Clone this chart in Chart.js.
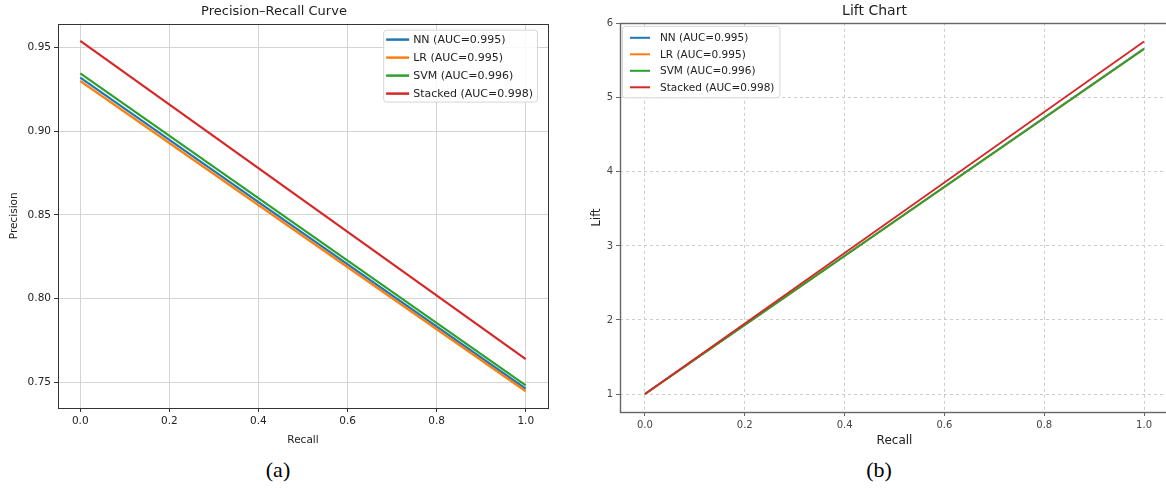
<!DOCTYPE html>
<html>
<head>
<meta charset="utf-8">
<script src="https://cdn.jsdelivr.net/npm/chart.js@4.4.1/dist/chart.umd.min.js"></script>
<style>
  html, body { margin: 0; padding: 0; background: #fff; overflow: hidden; width: 1166px; height: 488px; }
  canvas { position: absolute; top: 0; }
  #pr { left: 0; }
  #lift { left: 580px; }
  .cap { position: absolute; top: 459px; font-family: 'Liberation Serif', 'Times New Roman', serif;
         font-size: 22px; line-height: 22px; color: #000; transform: translateX(-50%); }
</style>
</head>
<body>
<canvas id="pr" width="580" height="452"></canvas>
<canvas id="lift" width="592" height="452"></canvas>
<div class="cap" style="left:278px">(a)</div>
<div class="cap" style="left:879px">(b)</div>
<script>
/* data */
const recall = [0, 1];
const labels = ['NN (AUC=0.995)', 'LR (AUC=0.995)', 'SVM (AUC=0.996)', 'Stacked (AUC=0.998)'];
const colors = ['#1f77b4', '#ff7f0e', '#2ca02c', '#d62728'];

const precNN = [0.932, 0.746];
const precLR = [0.930, 0.7445];
const precSVM = [0.9345, 0.748];
const precStacked = [0.954, 0.7637];

const liftNN = [1, 5.665];
const liftLR = [1, 5.66];
const liftSVM = [1, 5.66];
const liftStacked = [1, 5.76];

const xTicks = [0, 0.2, 0.4, 0.6, 0.8, 1.0];
const precTicks = [0.75, 0.80, 0.85, 0.90, 0.95];
const liftTicks = [1, 2, 3, 4, 5, 6];

const FONT = "'DejaVu Sans', sans-serif";

// top/right spines
const frame = {
  id: 'frame',
  afterDraw(chart, args, opts) {
    const a = chart.chartArea, ctx = chart.ctx;
    ctx.save();
    ctx.strokeStyle = opts.color;
    ctx.lineWidth = opts.width;
    ctx.strokeRect(Math.round(a.left) + 0.5, Math.round(a.top) + 0.5,
                   Math.round(a.right - a.left), Math.round(a.bottom - a.top));
    ctx.restore();
  }
};

// matplotlib-like legend inside the axes
const insideLegend = {
  id: 'insideLegend',
  afterDraw(chart, args, o) {
    const ctx = chart.ctx, a = chart.chartArea;
    ctx.save();
    ctx.font = o.size + 'px ' + FONT;
    let tw = 0;
    chart.data.datasets.forEach(d => { tw = Math.max(tw, ctx.measureText(d.label).width); });
    const w = o.textX + tw + o.padR;
    const h = o.rowTop * 2 + o.rowH * (chart.data.datasets.length - 1) - 2;
    const left = o.side === 'right' ? a.right - o.gapX - w : a.left + o.gapX;
    const top = a.top + o.gapY;
    ctx.fillStyle = 'rgba(255,255,255,0.85)';
    ctx.strokeStyle = '#d6d6d6';
    ctx.lineWidth = 1;
    ctx.beginPath();
    ctx.roundRect(left + 0.5, top + 0.5, w, h, 3);
    ctx.fill();
    ctx.stroke();
    ctx.textBaseline = 'middle';
    chart.data.datasets.forEach((d, i) => {
      const y = top + o.rowTop + i * o.rowH;
      ctx.strokeStyle = d.borderColor;
      ctx.lineWidth = o.lw;
      ctx.beginPath();
      ctx.moveTo(left + o.lineX0, y);
      ctx.lineTo(left + o.lineX1, y);
      ctx.stroke();
      ctx.fillStyle = '#222';
      ctx.fillText(d.label, left + o.textX, y + 0.5);
    });
    ctx.restore();
  }
};

function series(vals, lw) {
  return vals.map((v, i) => ({
    label: labels[i],
    data: recall.map((x, j) => ({ x: x, y: v[j] })),
    borderColor: colors[i],
    backgroundColor: colors[i],
    borderWidth: lw,
    pointRadius: 0,
    order: 4 - i
  }));
}

new Chart(document.getElementById('pr'), {
  type: 'line',
  data: { datasets: series([precNN, precLR, precSVM, precStacked], 2.2) },
  plugins: [frame, insideLegend],
  options: {
    responsive: false,
    animation: false,
    layout: { padding: { left: 0, right: 32, top: 0, bottom: 0 } },
    plugins: {
      legend: { display: false },
      tooltip: { enabled: false },
      title: { display: true, text: 'Precision–Recall Curve', color: '#222',
               font: { family: FONT, size: 13, weight: 'normal' }, padding: { top: 4, bottom: 4 } },
      frame: { color: '#333', width: 1 },
      insideLegend: { side: 'right', gapX: 11, gapY: 6, size: 11, rowTop: 10, rowH: 18,
                      lineX0: 3, lineX1: 26, textX: 30, padR: 4, lw: 2.5 }
    },
    scales: {
      x: {
        type: 'linear', min: -0.05, max: 1.05,
        afterBuildTicks: s => { s.ticks = xTicks.map(v => ({ value: v })); },
        afterFit: s => { s.height = 44; },
        ticks: { callback: v => v.toFixed(1), color: '#222', font: { family: FONT, size: 10.5 }, padding: 3 },
        grid: { color: '#d4d4d4', tickColor: '#333', tickLength: 4 },
        border: { display: false },
        title: { display: true, text: 'Recall', color: '#222', font: { family: FONT, size: 10.5 }, padding: 5 }
      },
      y: {
        type: 'linear', min: 0.7345, max: 0.9643,
        afterBuildTicks: s => { s.ticks = precTicks.map(v => ({ value: v })); },
        afterFit: s => { s.width = 58; },
        ticks: { callback: v => v.toFixed(2), color: '#222', font: { family: FONT, size: 10.5 }, padding: 3 },
        grid: { color: '#d4d4d4', tickColor: '#333', tickLength: 4 },
        border: { display: false },
        title: { display: true, text: 'Precision', color: '#222', font: { family: FONT, size: 10.5 }, padding: 8 }
      }
    }
  }
});

new Chart(document.getElementById('lift'), {
  type: 'line',
  data: { datasets: series([liftNN, liftLR, liftSVM, liftStacked], 1.8) },
  plugins: [frame, insideLegend],
  options: {
    responsive: false,
    animation: false,
    layout: { padding: { left: 0, right: 3, top: 0, bottom: 0 } },
    plugins: {
      legend: { display: false },
      tooltip: { enabled: false },
      title: { display: true, text: 'Lift Chart', color: '#222',
               font: { family: FONT, size: 14, weight: 'normal' }, padding: { top: 3, bottom: 3 } },
      frame: { color: '#666', width: 1.4 },
      insideLegend: { side: 'left', gapX: 2, gapY: 3, size: 10.5, rowTop: 12, rowH: 16.5,
                      lineX0: 8, lineX1: 28, textX: 38, padR: 5, lw: 2 }
    },
    scales: {
      x: {
        type: 'linear', min: -0.05, max: 1.05,
        afterBuildTicks: s => { s.ticks = xTicks.map(v => ({ value: v })); },
        afterFit: s => { s.height = 40; },
        ticks: { callback: v => v.toFixed(1), color: '#444', font: { family: FONT, size: 10 }, padding: 3 },
        grid: { color: '#cccccc', tickColor: '#666', tickLength: 4 },
        border: { display: false, dash: [3, 3] },
        title: { display: true, text: 'Recall', color: '#222', font: { family: FONT, size: 12 }, padding: 4 }
      },
      y: {
        type: 'linear', min: 0.757, max: 6.0135,
        afterBuildTicks: s => { s.ticks = liftTicks.map(v => ({ value: v })); },
        afterFit: s => { s.width = 40; },
        ticks: { callback: v => String(v), color: '#444', font: { family: FONT, size: 10 }, padding: 3 },
        grid: { color: '#cccccc', tickColor: '#666', tickLength: 4 },
        border: { display: false, dash: [3, 3] },
        title: { display: true, text: 'Lift', color: '#222', font: { family: FONT, size: 11.5 }, padding: 10 }
      }
    }
  }
});
</script>
</body>
</html>
